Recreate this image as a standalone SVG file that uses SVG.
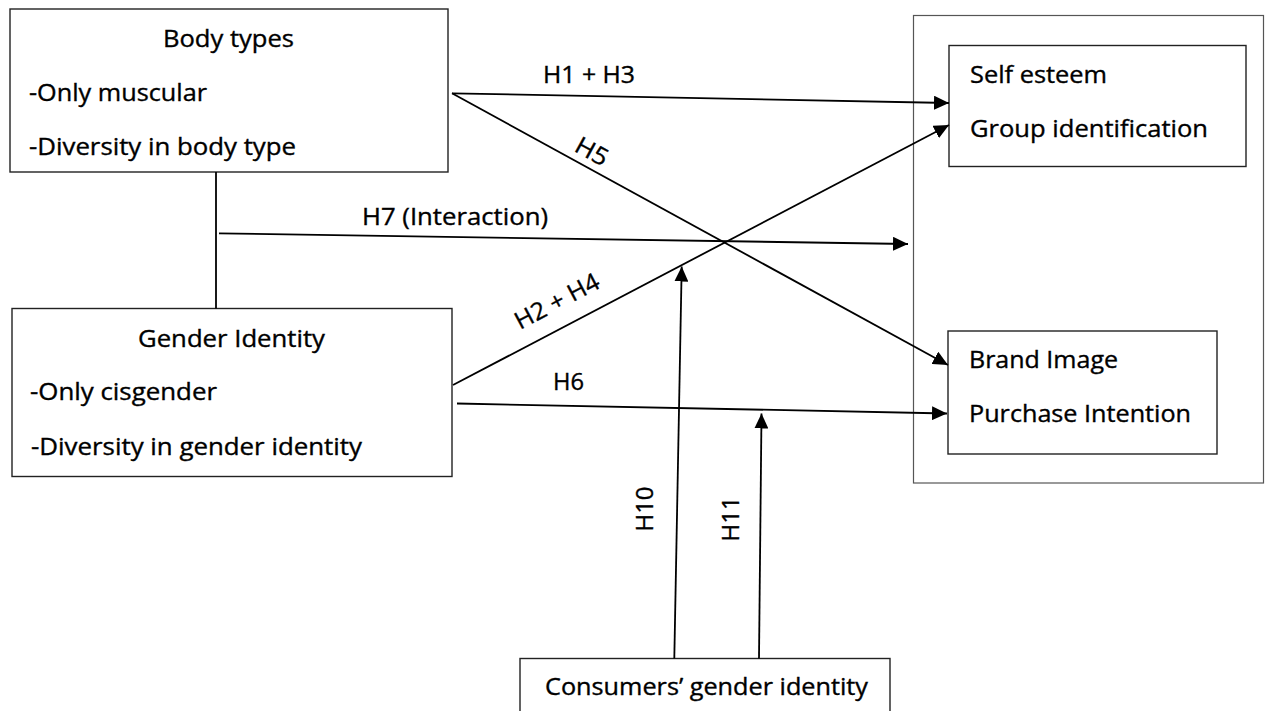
<svg xmlns="http://www.w3.org/2000/svg" width="1266" height="711" viewBox="0 0 1266 711">
<style>
  .box{fill:#fff;stroke:#222;stroke-width:1.4}
  .outer{fill:#fff;stroke:#555;stroke-width:1.2}
  .t{font-family:"Open Sans","Liberation Sans",sans-serif;font-size:23px;fill:#000;stroke:#000;stroke-width:0.35}
  .r{font-size:24px}
  .c{stroke:#000;stroke-width:1.8;fill:none}
</style>
<defs>
  <marker id="ah" markerUnits="userSpaceOnUse" markerWidth="15" markerHeight="14" viewBox="0 0 15 14" refX="15" refY="7" orient="auto">
    <path d="M0,0 L15,7 L0,14 z" fill="#000"/>
  </marker>
</defs>
<rect width="1266" height="711" fill="#fff"/>
<g id="outcomes">
  <rect class="outer" x="913.5" y="15.5" width="350" height="467.5"/>
</g>
<g id="body-types">
  <rect class="box" x="10" y="9" width="438" height="163"/>
  <text class="t" x="163" y="47" textLength="131" lengthAdjust="spacingAndGlyphs">Body types</text>
  <text class="t" x="29" y="101" textLength="178" lengthAdjust="spacingAndGlyphs">-Only muscular</text>
  <text class="t" x="29" y="155" textLength="267" lengthAdjust="spacingAndGlyphs">-Diversity in body type</text>
</g>
<g id="gender-identity">
  <rect class="box" x="12" y="308.5" width="440" height="168"/>
  <text class="t" x="138" y="347" textLength="187" lengthAdjust="spacingAndGlyphs">Gender Identity</text>
  <text class="t" x="30" y="400" textLength="187" lengthAdjust="spacingAndGlyphs">-Only cisgender</text>
  <text class="t" x="31" y="455" textLength="331" lengthAdjust="spacingAndGlyphs">-Diversity in gender identity</text>
</g>
<g id="self-esteem">
  <rect class="box" x="949" y="45.5" width="297" height="121"/>
  <text class="t" x="970" y="83" textLength="137" lengthAdjust="spacingAndGlyphs">Self esteem</text>
  <text class="t" x="970" y="137" textLength="238" lengthAdjust="spacingAndGlyphs">Group identification</text>
</g>
<g id="brand-image">
  <rect class="box" x="948" y="331" width="269" height="123"/>
  <text class="t" x="969" y="368" textLength="149" lengthAdjust="spacingAndGlyphs">Brand Image</text>
  <text class="t" x="969" y="422" textLength="222" lengthAdjust="spacingAndGlyphs">Purchase Intention</text>
</g>
<g id="consumers-gender-identity">
  <rect class="box" x="520" y="658.5" width="370" height="60"/>
  <text class="t" x="545" y="695" textLength="323" lengthAdjust="spacingAndGlyphs">Consumers’ gender identity</text>
</g>
<g id="connectors">
  <line class="c" x1="216" y1="172" x2="216" y2="308.5"/>
  <line class="c" x1="452" y1="93.3" x2="949" y2="103" marker-end="url(#ah)"/>
  <line class="c" x1="452" y1="93.3" x2="948" y2="365" marker-end="url(#ah)"/>
  <line class="c" x1="219" y1="233.3" x2="908" y2="244" marker-end="url(#ah)"/>
  <line class="c" x1="453" y1="385" x2="949" y2="125" marker-end="url(#ah)"/>
  <line class="c" x1="457" y1="403.5" x2="947" y2="413.5" marker-end="url(#ah)"/>
  <line class="c" x1="674.3" y1="658.5" x2="681.7" y2="266.5" marker-end="url(#ah)"/>
  <line class="c" x1="759" y1="658.5" x2="761.5" y2="413.5" marker-end="url(#ah)"/>
</g>
<g id="labels">
  <text class="t" x="543" y="83.3" textLength="92" lengthAdjust="spacingAndGlyphs">H1 + H3</text>
  <text class="t" x="362" y="225" textLength="186" lengthAdjust="spacingAndGlyphs">H7 (Interaction)</text>
  <text class="t" x="553" y="390" textLength="31" lengthAdjust="spacingAndGlyphs">H6</text>
  <text class="t r" transform="translate(591.7,151.7) rotate(28.7)" x="-17" y="8" textLength="34" lengthAdjust="spacingAndGlyphs">H5</text>
  <text class="t r" transform="translate(557,301.5) rotate(-27.7)" x="-46" y="8" textLength="92" lengthAdjust="spacingAndGlyphs">H2 + H4</text>
  <text class="t r" transform="translate(653,509) rotate(-90)" x="-22.5" y="0" textLength="45" lengthAdjust="spacingAndGlyphs">H10</text>
  <text class="t r" transform="translate(738.5,519) rotate(-90)" x="-22.5" y="0" textLength="45" lengthAdjust="spacingAndGlyphs">H11</text>
</g>
</svg>
